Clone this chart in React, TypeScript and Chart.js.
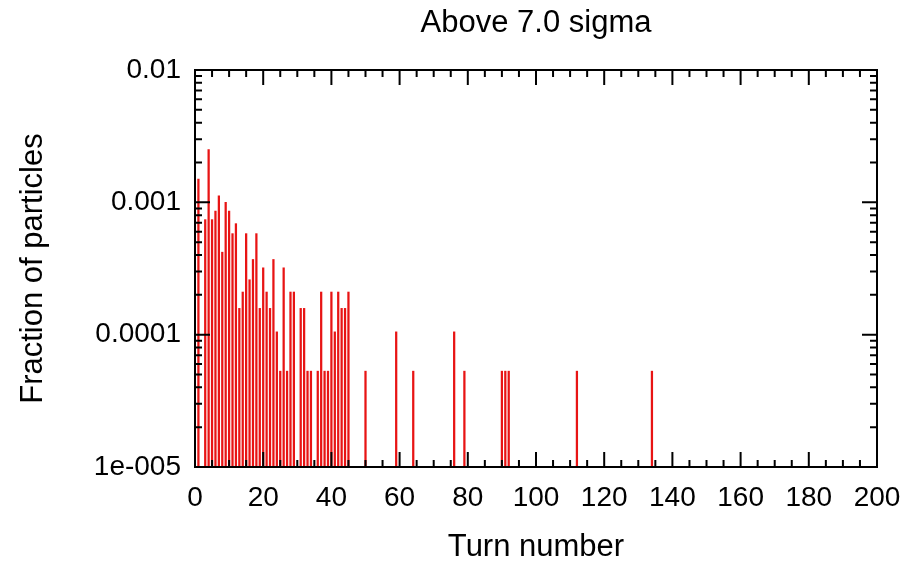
import React, { useEffect, useRef } from 'react';
import { Chart, registerables } from 'chart.js';

Chart.register(...registerables);

const turns = [
  1, 3, 4, 5, 6, 7, 8, 9, 10, 11, 12, 13, 14, 15, 16, 17, 18, 19, 20, 21, 22, 23, 24, 25, 26, 27, 28, 29,
  31, 32, 33, 34, 36, 37, 38, 39, 40, 41, 42, 43, 44, 45,
  50, 59, 64, 76, 79, 90, 91, 92, 112, 134,
];
const fractions = [
  1.5e-3, 7.4e-4, 2.5e-3, 7.4e-4, 8.6e-4, 1.12e-3, 4.2e-4, 1.0e-3, 8.6e-4, 5.8e-4, 6.9e-4, 1.58e-4, 2.1e-4, 5.8e-4,
  2.6e-4, 3.7e-4, 5.8e-4, 1.58e-4, 3.2e-4, 2.1e-4, 1.58e-4, 3.7e-4, 1.05e-4, 5.3e-5, 3.2e-4, 5.3e-5, 2.1e-4, 2.1e-4,
  1.58e-4, 1.58e-4, 5.3e-5, 5.3e-5, 5.3e-5, 2.1e-4, 5.3e-5, 5.3e-5, 2.1e-4, 1.05e-4, 2.1e-4, 1.58e-4, 1.58e-4, 2.1e-4,
  5.3e-5, 1.05e-4, 5.3e-5, 1.05e-4, 5.3e-5, 5.3e-5, 5.3e-5, 5.3e-5, 5.3e-5, 5.3e-5,
];
const xTickValues = [0, 20, 40, 60, 80, 100, 120, 140, 160, 180, 200];
const yTickValues = [1e-5, 1e-4, 1e-3, 1e-2];
const yTickLabels = ['1e-005', '0.0001', '0.001', '0.01'];
const chartTitle = 'Above 7.0 sigma';
const xTitle = 'Turn number';
const yTitle = 'Fraction of particles';

const FONT = '"Liberation Sans", Arial, Helvetica, sans-serif';

const frameTicks = {
  id: 'frameTicks',
  afterDatasetsDraw(chart: any) {
    const { ctx, chartArea, scales } = chart;
    const { left, right, top, bottom } = chartArea;
    const x = scales.x;
    const y = scales.y;
    ctx.save();
    ctx.strokeStyle = '#000';
    ctx.lineWidth = 2;
    ctx.beginPath();
    for (let v = 0; v <= 200; v += 5) {
      const px = x.getPixelForValue(v);
      const len = v % 20 === 0 ? 15 : 7;
      ctx.moveTo(px, bottom);
      ctx.lineTo(px, bottom - len);
      ctx.moveTo(px, top);
      ctx.lineTo(px, top + len);
    }
    for (let d = -5; d <= -2; d++) {
      for (let m = 1; m <= 9; m++) {
        const v = m * Math.pow(10, d);
        if (v > 0.0100001) break;
        const py = y.getPixelForValue(v);
        const len = m === 1 ? 15 : 7;
        ctx.moveTo(left, py);
        ctx.lineTo(left + len, py);
        ctx.moveTo(right, py);
        ctx.lineTo(right - len, py);
      }
    }
    ctx.stroke();
    ctx.strokeRect(left, top, right - left, bottom - top);
    ctx.fillStyle = '#000';
    ctx.font = `31px ${FONT}`;
    ctx.textAlign = 'center';
    ctx.textBaseline = 'middle';
    ctx.fillText(chartTitle, (left + right) / 2, 23);
    ctx.restore();
  },
};

export default function App() {
  const ref = useRef<HTMLCanvasElement>(null);
  useEffect(() => {
    if (!ref.current) return;
    const chart = new Chart(ref.current, {
      type: 'bar',
      data: {
        datasets: [
          {
            data: turns.map((t, i) => ({ x: t, y: fractions[i] })),
            backgroundColor: 'rgb(232, 20, 20)',
            borderWidth: 0,
            barThickness: 1.6,
          } as any,
        ],
      },
      options: {
        responsive: false,
        animation: false,
        layout: { padding: { left: 0, right: 45, top: 70, bottom: 0 } },
        plugins: {
          legend: { display: false },
          tooltip: { enabled: false },
          title: { display: false },
        },
        scales: {
          x: {
            type: 'linear',
            offset: false,
            min: 0,
            max: 200,
            afterBuildTicks: (scale: any) => {
              scale.ticks = xTickValues.map((v) => ({ value: v }));
            },
            afterFit: (scale: any) => {
              scale.height = 96;
            },
            grid: { display: false, drawTicks: false, offset: false },
            border: { display: false },
            ticks: {
              color: '#000',
              padding: 14,
              maxRotation: 0,
              autoSkip: false,
              font: { family: FONT, size: 28 },
            },
            title: {
              display: true,
              text: xTitle,
              color: '#000',
              font: { family: FONT, size: 31, lineHeight: 1 },
              padding: { top: 0, bottom: 0 },
            },
          },
          y: {
            type: 'logarithmic',
            min: 1e-5,
            max: 1e-2,
            afterBuildTicks: (scale: any) => {
              scale.ticks = yTickValues.map((v) => ({ value: v }));
            },
            afterFit: (scale: any) => {
              scale.width = 195;
            },
            grid: { display: false, drawTicks: false },
            border: { display: false },
            ticks: {
              color: '#000',
              padding: 14,
              autoSkip: false,
              font: { family: FONT, size: 28 },
              callback: (_v: any, i: number) => yTickLabels[i],
            },
            title: {
              display: true,
              text: yTitle,
              color: '#000',
              font: { family: FONT, size: 31, lineHeight: 1 },
              padding: { top: 18, bottom: 0 },
            },
          },
        },
      } as any,
      plugins: [frameTicks],
    });
    return () => chart.destroy();
  }, []);
  return (
    <div style={{ position: 'fixed', left: 0, top: 0, width: 922, height: 563, background: '#fff' }}>
      <canvas ref={ref} width={922} height={563} style={{ display: 'block', width: 922, height: 563 }} />
    </div>
  );
}
